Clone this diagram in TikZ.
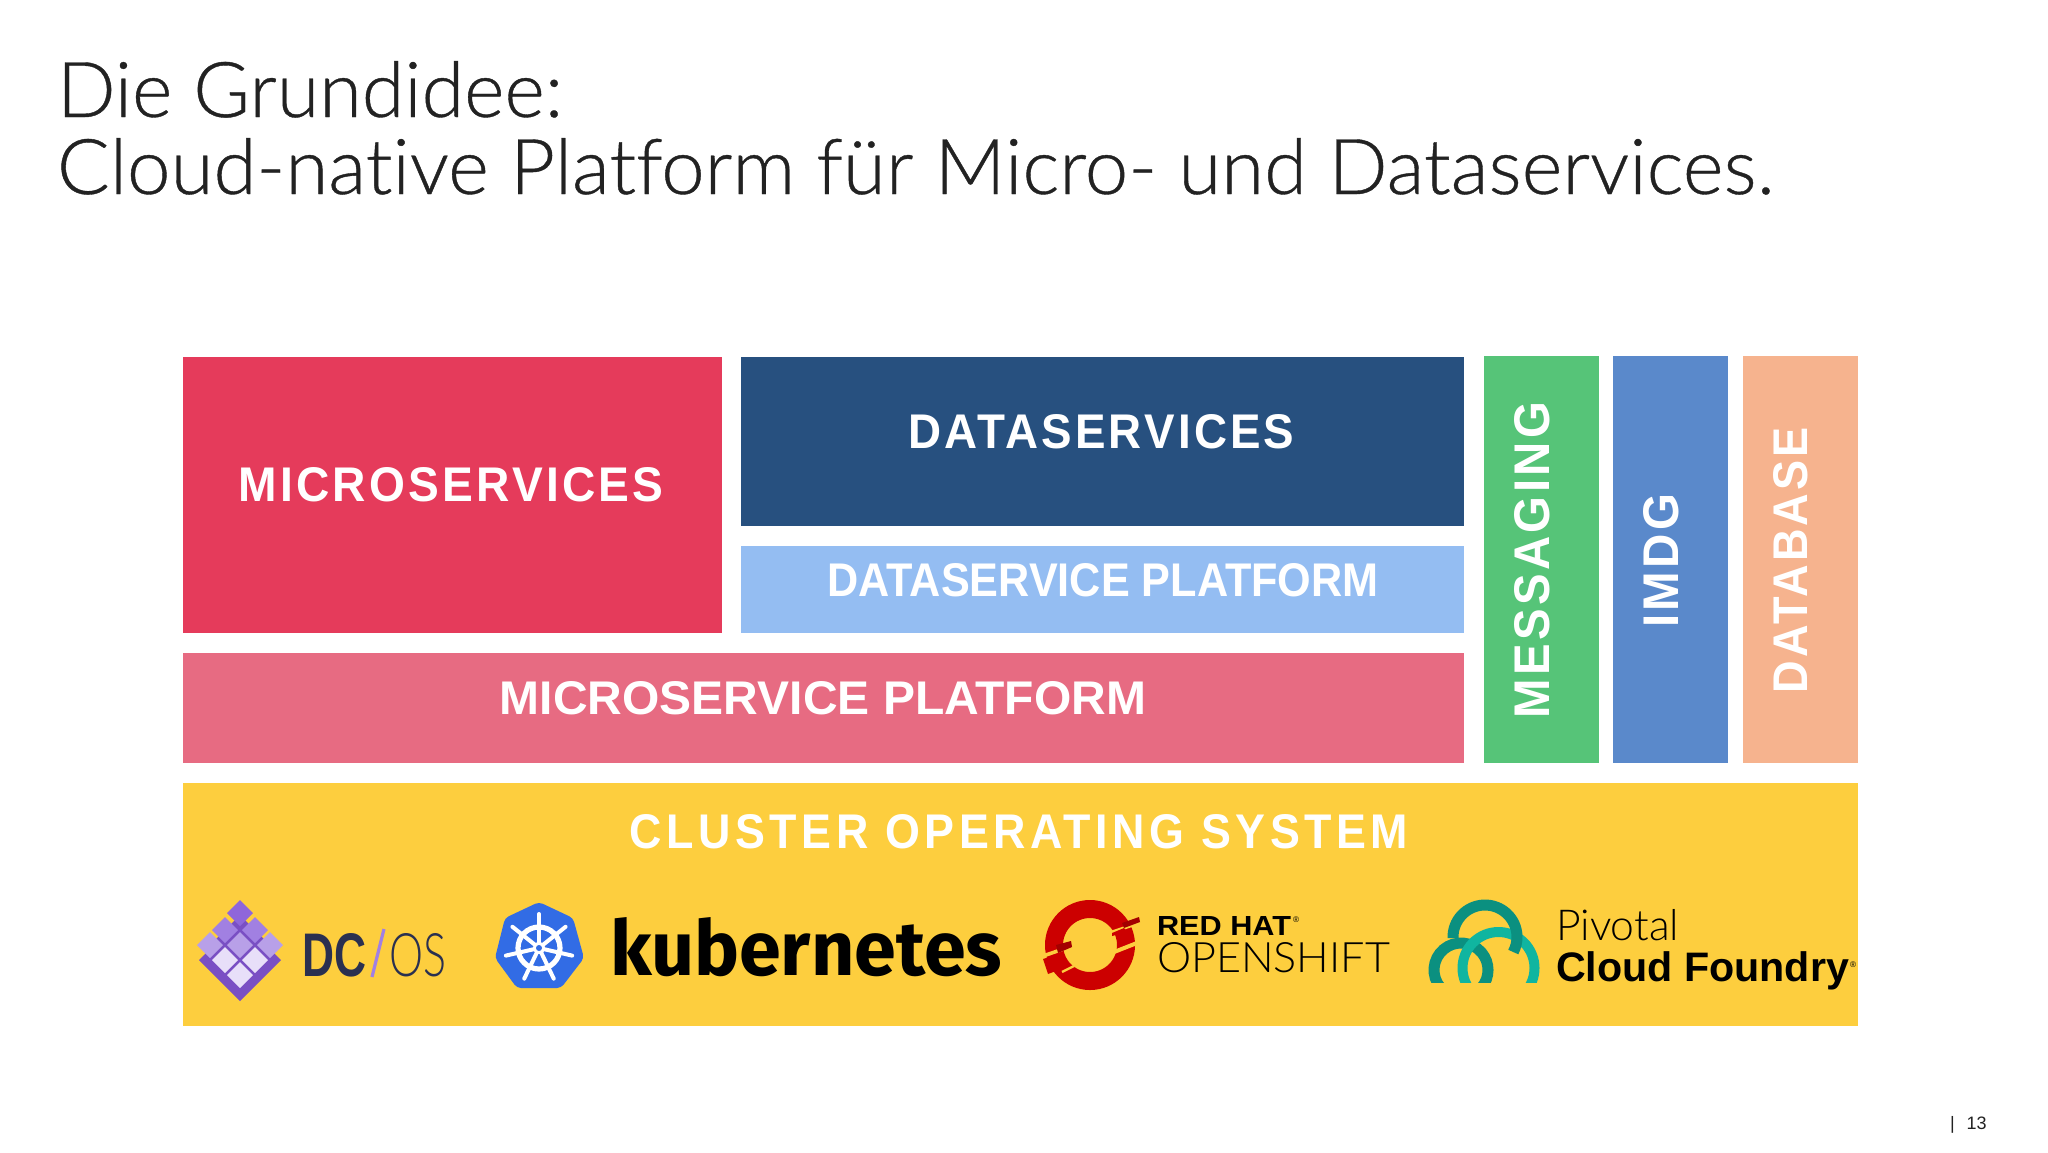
\documentclass[tikz,border=0pt]{standalone}
\usepackage{fontspec}
\usepackage{graphicx}
\setmainfont{Liberation Sans}
\newfontfamily\lab[LetterSpace=7]{Liberation Sans}
\newfontfamily\labw[LetterSpace=10]{Liberation Sans}
\newfontfamily\titlef[Ligatures=NoCommon,FakeBold=0.5]{Lato Light}
\newfontfamily\kubef{Fira Sans}
\newfontfamily\thinf{Lato Light}
\newlength\px \px=0.5pt
\newcommand{\fit}[3]{\resizebox{#1\px}{#2\px}{#3}}
\definecolor{cmicro}{HTML}{E53B5B}
\definecolor{cdata}{HTML}{27507F}
\definecolor{cdsp}{HTML}{94BDF2}
\definecolor{cmsp}{HTML}{E76B82}
\definecolor{cmsg}{HTML}{56C478}
\definecolor{cimdg}{HTML}{5A89CB}
\definecolor{cdb}{HTML}{F6B38E}
\definecolor{ccos}{HTML}{FDCE3E}
\definecolor{dcink}{HTML}{2A3050}
\definecolor{dcp}{HTML}{7A4FC4}
\definecolor{dcl}{HTML}{8F66DA}
\definecolor{dcn}{HTML}{A180E2}
\definecolor{dcm}{HTML}{B8A0E8}
\definecolor{dcw}{HTML}{E8DFF9}
\definecolor{kblue}{HTML}{326CE5}
\definecolor{rhr}{HTML}{CC0000}
\definecolor{rhd}{HTML}{A30000}
\definecolor{pdark}{HTML}{0B9080}
\definecolor{plight}{HTML}{10B5A0}
\definecolor{ttl}{HTML}{222222}
\tikzset{
  tx/.style={inner sep=0pt,outer sep=0pt,text=white},
  ink/.style={inner sep=0pt,outer sep=0pt,anchor=west},
  tile/.style={shape=diamond,minimum width=26\px,minimum height=26\px,inner sep=0pt,outer sep=0pt,fill=#1},
}
\usetikzlibrary{shapes.geometric}
\begin{document}
\begin{tikzpicture}[x=0.5pt,y=-0.5pt]
\useasboundingbox (0,0) rectangle (2048,1152);
\fill[white] (0,0) rectangle (2048,1152);
% title
\node[ink,anchor=base west,text=ttl] (t1) at (57,117) {\resizebox{506\px}{56\px}{\titlef\fontsize{40}{40}\selectfont Die Grundidee:}};
\node[ink,anchor=base west,text=ttl] (t2) at (57,194) {\resizebox{1717\px}{56\px}{\titlef\fontsize{40}{40}\selectfont Cloud-native Platform für Micro- und Dataservices.}};
% boxes
\fill[cmicro] (183,357) rectangle (722,633);
\fill[cdata] (741,357) rectangle (1464,526);
\fill[cdsp] (741,546) rectangle (1464,633);
\fill[cmsp] (183,653) rectangle (1464,763);
\fill[cmsg] (1484,356) rectangle (1599,763);
\fill[cimdg] (1613,356) rectangle (1728,763);
\fill[cdb] (1743,356) rectangle (1858,763);
\fill[ccos] (183,783) rectangle (1858,1026);
% labels
\node[tx] (a) at (451,485) {\fit{425}{34}{\lab\bfseries MICROSERVICES}};
\node[tx] (b) at (1101.5,432) {\fit{386}{34}{\lab\bfseries DATASERVICES}};
\node[tx] (c) at (1103,580) {\fit{551}{33}{\bfseries DATASERVICE PLATFORM}};
\node[tx] (d) at (823,698) {\fit{646}{33}{\bfseries MICROSERVICE PLATFORM}};
\node[tx,rotate=90] (e) at (1532.5,560) {\fit{316}{35}{\lab\bfseries MESSAGING}};
\node[tx,rotate=90] (f) at (1661,560.5) {\fit{134}{35}{\lab\bfseries IMDG}};
\node[tx,rotate=90] (g) at (1791,560) {\fit{266}{34}{\lab\bfseries DATABASE}};
\node[tx] (h) at (1019,832) {\fit{778}{34}{\labw\bfseries CLUSTER OPERATING SYSTEM}};
% DC/OS logo
\fill[dcp] (199,960) -- (240,919) -- (281,960) -- (240,1001) -- cycle;
\fill[dcp] (240,915) -- (270,945) -- (240,975) -- (210,945) -- cycle;
\node[tile=dcl] (d1) at (240,913) {};
\node[tile=dcn] (d2) at (225,930) {};
\node[tile=dcn] (d3) at (255,930) {};
\node[tile=dcm] (d4) at (210,945) {};
\node[tile=dcm] (d5) at (240,945) {};
\node[tile=dcm] (d6) at (270,945) {};
\node[tile=dcw] (d7) at (225,960) {};
\node[tile=dcw] (d8) at (255,960) {};
\node[tile=dcw] (d9) at (240,975) {};
\node[ink,text=dcink] (dc) at (302,955) {\fit{64}{43}{\bfseries DC}};
\draw[dcn,line width=1.6pt] (372,977) -- (384,929);
\node[ink,text=dcink] (os) at (389,955) {\fit{57}{43}{\thinf OS}};
% kubernetes logo
\fill[kblue,rounded corners=2pt] (539,902) -- (573,918) -- (584,958) -- (561,988) -- (517,988) -- (495,958) -- (505,918) -- cycle;
\draw[white,line width=2.6pt] (539,948) circle (21);
\foreach \a in {-90,-38.6,12.9,64.3,115.7,167.1,218.6}{
  \draw[white,line width=2pt,line cap=round] (539,948) -- ++(\a:34);
}
\fill[white] (539,948) circle (6);
\fill[kblue] (539,948) circle (3);
\node[ink,anchor=base west,text=black] (k) at (610,975) {\resizebox{392\px}{58\px}{\kubef\bfseries kubernetes}};
% openshift logo
\draw[rhr,line width=9pt] (1090,945) circle (36);
\draw[ccos,line width=1.6pt] (1109,933) -- (1142,922);
\draw[ccos,line width=2pt] (1114,952) -- (1142,941);
\fill[rhd] (1122,923) -- (1139,917) -- (1140,922) -- (1124,928) -- cycle;
\fill[rhr] (1124,928) -- (1112,933) -- (1112,936) -- (1127,932) -- cycle;
\draw[ccos,line width=1.8pt] (1040,957) -- (1078,944);
\fill[rhd] (1056,945) -- (1071,941) -- (1072,947) -- (1058,953) -- cycle;
\fill[rhr] (1043,959) -- (1058,954) -- (1064,968) -- (1048,974) -- cycle;
\draw[ccos,line width=1.2pt] (1062,972) -- (1074,966);
\node[ink,text=black] (rh) at (1157,926) {\fit{134}{19}{\bfseries RED HAT}};
\node[ink,text=black] (rr) at (1293,920) {\resizebox{6\px}{!}{®}};
\node[ink,text=black] (os2) at (1157,958) {\fit{233}{30}{\thinf OPENSHIFT}};
% pivotal logo
\begin{scope}
\clip (1400,890) rectangle (1550,982);
\draw[pdark,line width=5.5pt] (1461,970) ++(140:27) arc[start angle=140,end angle=400,radius=27];
\draw[plight,line width=5pt] (1498.5,968) ++(140:36) arc[start angle=140,end angle=400,radius=36];
\draw[pdark,line width=5.5pt] (1485,937) ++(178:32) arc[start angle=178,end angle=388,radius=32];
\end{scope}
\node[ink,anchor=base west,text=black] (p1) at (1556,940) {\resizebox{123\px}{!}{\thinf Pivotal}};
\node[ink,anchor=base west,text=black] (p2) at (1556,981) {\resizebox{293\px}{!}{\bfseries Cloud Foundry}};
\node[ink,text=black] (p3) at (1850,965) {\resizebox{6\px}{!}{®}};
% footer
\node[ink,text=ttl,font=\fontsize{9}{9}\selectfont] (pg) at (1950,1125) {|\hspace{6pt}13};
\end{tikzpicture}
\end{document}
